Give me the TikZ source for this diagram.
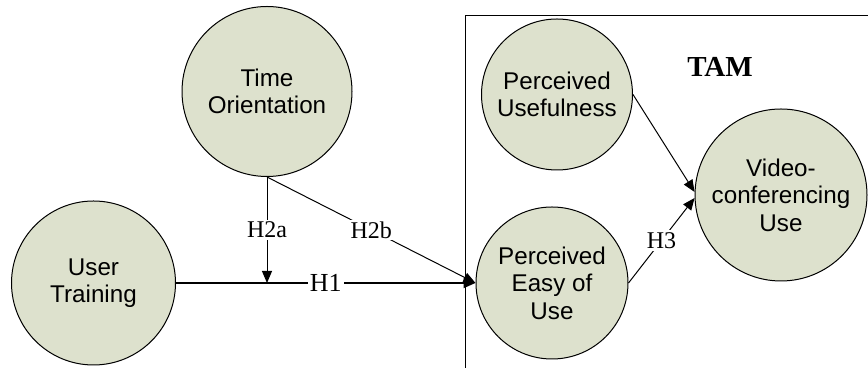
\documentclass[tikz,border=0pt]{standalone}
\usepackage{fontspec}
\setmainfont{Liberation Serif}
\setsansfont{Liberation Sans}
\usetikzlibrary{arrows.meta}
\definecolor{halvany}{RGB}{221,225,205}
\tikzset{
  lat/.style={circle,draw,fill=halvany,line width=0.5pt,inner sep=0pt,align=center,
    font=\sffamily\fontsize{12.1}{13.8}\selectfont},
  nyil/.style={-{Triangle[length=6pt,width=5pt]}},
  vek/.style={line width=0.5pt},
  cimke/.style={fill=white,inner sep=1pt,font=\fontsize{12}{14}\selectfont},
}

\begin{document}
\begin{tikzpicture}[x=0.5pt,y=0.5pt]
  \clip (0,0) rectangle (868,368);
  % TAM keret
  \draw[vek] (465,-20) rectangle (900,352);
  \node[font=\bfseries\fontsize{14.5}{16}\selectfont] (tam) at (720,301) {TAM};
  % konstruktumok
  \node[lat,minimum size=82pt] (ut) at (93.5,85) {User\\Training};
  \node[lat,minimum size=85pt] (to) at (267,276.5) {Time\\Orientation};
  \node[lat,minimum size=75.5pt] (pu) at (557,273.5) {Perceived\\Usefulness};
  \node[lat,minimum size=76pt] (peou) at (552,85) {Perceived\\Easy of\\Use};
  \node[lat,minimum size=86pt] (vid) at (781,173) {Video-\\conferencing\\Use};
  \coordinate (mod) at (to.south |- ut.east);
  % hipotezisek
  \draw[nyil,line width=1pt] (ut.east) -- node[cimke,font=\fontsize{13}{15}\selectfont] {H1} (peou.west);
  \draw[nyil,vek] (to.south) -- node[cimke] {H2a} (mod);
  \draw[nyil,vek] (to.south) -- node[cimke] {H2b} (peou.west);
  \draw[nyil,vek] (pu.east) -- (vid.178);
  \draw[nyil,vek] (peou.east) -- node[cimke] {H3} (vid.182);
\end{tikzpicture}
\end{document}
